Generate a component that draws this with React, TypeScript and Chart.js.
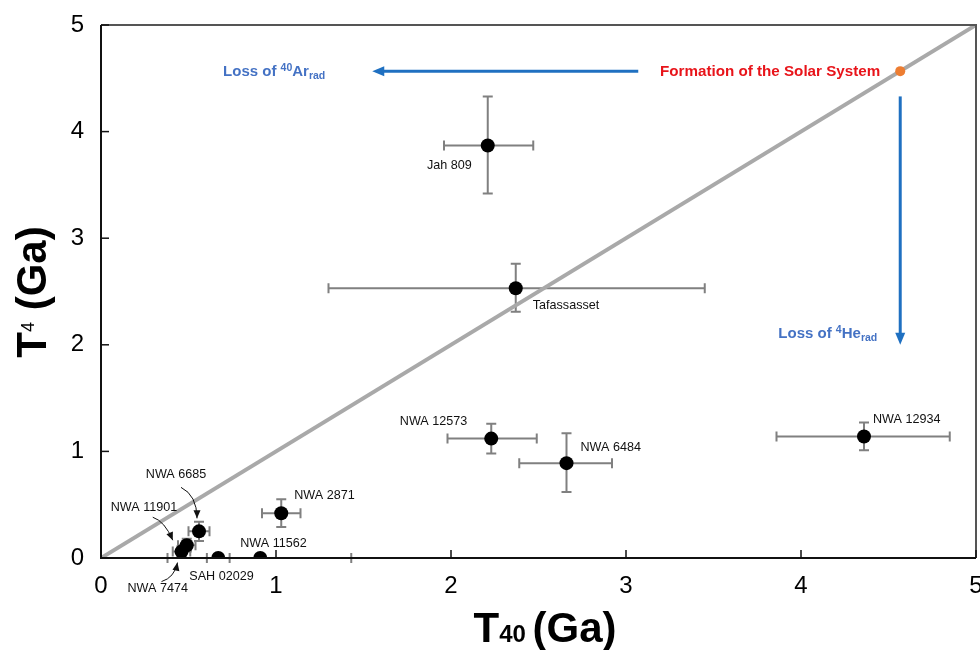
import React, { useEffect, useRef } from "react";
import { Chart, registerables } from "chart.js";

Chart.register(...registerables);

// ---------- data ----------
const names = [
  "Jah 809", "Tafassasset", "NWA 12573", "NWA 6484", "NWA 12934", "NWA 2871",
  "NWA 6685", "NWA 11901", "NWA 7474", "SAH 02029", "NWA 11562",
];
const t40 = [2.21, 2.37, 2.23, 2.66, 4.36, 1.03, 0.56, 0.49, 0.46, 0.67, 0.91];
const t4 = [3.87, 2.53, 1.12, 0.89, 1.14, 0.42, 0.25, 0.12, 0.06, 0.0, 0.0];
const t40ErrLow = [0.25, 1.07, 0.25, 0.27, 0.5, 0.11, 0.06, 0.05, 0.05, 0.065, 0.53];
const t40ErrHigh = [0.26, 1.08, 0.26, 0.26, 0.49, 0.11, 0.06, 0.05, 0.05, 0.065, 0.52];
const t4ErrLow = [0.45, 0.22, 0.14, 0.27, 0.13, 0.13, 0.09, 0.06, 0.05, 0, 0];
const t4ErrHigh = [0.46, 0.23, 0.14, 0.28, 0.13, 0.13, 0.09, 0.06, 0.05, 0, 0];

const solarAge = 4.567; // Ga, formation of the Solar System
const diagonal = [0, 5];
const axisMin = 0;
const axisMax = 5;
const tickStep = 1;

// annotation arrows (data coordinates)
const arArrowFrom = 3.07;
const arArrowTo = 1.55;
const heArrowFrom = 4.33;
const heArrowTo = 2.0;

// ---------- layout (pixel offsets, styles) ----------
const labelLayout: Record<string, { dx: number; dy: number; align: CanvasTextAlign }> = {
  "Jah 809": { dx: -16, dy: 20, align: "right" },
  Tafassasset: { dx: 17, dy: 17, align: "left" },
  "NWA 12573": { dx: -24, dy: -17, align: "right" },
  "NWA 6484": { dx: 14, dy: -16, align: "left" },
  "NWA 12934": { dx: 9, dy: -17, align: "left" },
  "NWA 2871": { dx: 13, dy: -18, align: "left" },
  "NWA 6685": { dx: -23, dy: -57, align: "center" },
  "NWA 11901": { dx: -76, dy: -38, align: "left" },
  "NWA 7474": { dx: -54, dy: 37, align: "left" },
  "SAH 02029": { dx: -29, dy: 19, align: "left" },
  "NWA 11562": { dx: -20, dy: -14, align: "left" },
};
const pointerLayout: Record<string, number[][]> = {
  "NWA 6685": [[-18, -44], [-2, -36], [-2, -13]],
  "NWA 11901": [[-34, -28], [-22, -24], [-14, -5]],
  "NWA 7474": [[-20, 30], [-7, 26], [-4, 11]],
};

const FONT = "'Liberation Sans', Arial, Helvetica, sans-serif";
const BLUE_TEXT = "#4472c4";
const BLUE_ARROW = "#1f70c1";
const CANVAS_W = 988;

type Piece = { t: string; size: number; dy?: number; bold?: boolean };

function drawRich(ctx: CanvasRenderingContext2D, pieces: Piece[], x: number, y: number, align: "left" | "right" | "center", color: string) {
  ctx.save();
  ctx.fillStyle = color;
  ctx.textBaseline = "alphabetic";
  ctx.textAlign = "left";
  const widths = pieces.map((p) => {
    ctx.font = `${p.bold === false ? "" : "bold "}${p.size}px ${FONT}`;
    return ctx.measureText(p.t).width;
  });
  const total = widths.reduce((a, b) => a + b, 0);
  let cx = align === "left" ? x : align === "right" ? x - total : x - total / 2;
  pieces.forEach((p, i) => {
    ctx.font = `${p.bold === false ? "" : "bold "}${p.size}px ${FONT}`;
    ctx.fillText(p.t, cx, y + (p.dy || 0));
    cx += widths[i];
  });
  ctx.restore();
}

function arrowHead(ctx: CanvasRenderingContext2D, fx: number, fy: number, tx: number, ty: number, len: number, half: number) {
  const a = Math.atan2(ty - fy, tx - fx);
  ctx.beginPath();
  ctx.moveTo(tx, ty);
  ctx.lineTo(tx - len * Math.cos(a) + half * Math.sin(a), ty - len * Math.sin(a) - half * Math.cos(a));
  ctx.lineTo(tx - len * Math.cos(a) - half * Math.sin(a), ty - len * Math.sin(a) + half * Math.cos(a));
  ctx.closePath();
  ctx.fill();
}

const overlay = {
  id: "overlay",
  beforeDatasetsDraw(chart: any) {
    const { ctx, scales } = chart;
    const x = scales.x, y = scales.y;
    ctx.save();
    ctx.strokeStyle = "#808080";
    ctx.lineWidth = 2;
    const cap = 5;
    for (let i = 0; i < names.length; i++) {
      const px = x.getPixelForValue(t40[i]);
      const py = y.getPixelForValue(t4[i]);
      const xl = x.getPixelForValue(t40[i] - t40ErrLow[i]);
      const xr = x.getPixelForValue(t40[i] + t40ErrHigh[i]);
      ctx.beginPath();
      ctx.moveTo(xl, py); ctx.lineTo(xr, py);
      ctx.moveTo(xl, py - cap); ctx.lineTo(xl, py + cap);
      ctx.moveTo(xr, py - cap); ctx.lineTo(xr, py + cap);
      ctx.stroke();
      if (t4ErrLow[i] > 0 || t4ErrHigh[i] > 0) {
        const yb = y.getPixelForValue(t4[i] - t4ErrLow[i]);
        const yt = y.getPixelForValue(t4[i] + t4ErrHigh[i]);
        ctx.beginPath();
        ctx.moveTo(px, yb); ctx.lineTo(px, yt);
        ctx.moveTo(px - cap, yb); ctx.lineTo(px + cap, yb);
        ctx.moveTo(px - cap, yt); ctx.lineTo(px + cap, yt);
        ctx.stroke();
      }
    }
    ctx.restore();
  },
  afterDatasetsDraw(chart: any) {
    const { ctx, scales, chartArea: a } = chart;
    const x = scales.x, y = scales.y;
    ctx.save();
    // frame
    ctx.lineWidth = 2;
    ctx.strokeStyle = "#555";
    ctx.beginPath();
    ctx.moveTo(a.left, a.top); ctx.lineTo(a.right, a.top); ctx.lineTo(a.right, a.bottom);
    ctx.stroke();
    ctx.strokeStyle = "#111";
    ctx.beginPath();
    ctx.moveTo(a.left, a.top); ctx.lineTo(a.left, a.bottom); ctx.lineTo(a.right, a.bottom);
    ctx.stroke();
    // inside tick marks
    ctx.lineWidth = 1.5;
    x.ticks.forEach((t: any) => {
      const px = x.getPixelForValue(t.value);
      ctx.beginPath(); ctx.moveTo(px, a.bottom); ctx.lineTo(px, a.bottom - 8); ctx.stroke();
    });
    y.ticks.forEach((t: any) => {
      const py = y.getPixelForValue(t.value);
      ctx.beginPath(); ctx.moveTo(a.left, py); ctx.lineTo(a.left + 8, py); ctx.stroke();
    });

    // meteorite labels
    ctx.font = `12.6px ${FONT}`;
    ctx.fillStyle = "#111";
    ctx.textBaseline = "middle";
    names.forEach((n, i) => {
      const px = x.getPixelForValue(t40[i]);
      const py = y.getPixelForValue(t4[i]);
      const l = labelLayout[n];
      ctx.textAlign = l.align;
      ctx.fillText(n, px + l.dx, py + l.dy);
      const p = pointerLayout[n];
      if (p) {
        ctx.strokeStyle = "#111";
        ctx.lineWidth = 1;
        ctx.beginPath();
        ctx.moveTo(px + p[0][0], py + p[0][1]);
        ctx.quadraticCurveTo(px + p[1][0], py + p[1][1], px + p[2][0], py + p[2][1]);
        ctx.stroke();
        arrowHead(ctx, px + p[1][0], py + p[1][1], px + p[2][0], py + p[2][1], 8, 3.5);
      }
    });

    // blue arrows
    const sx = x.getPixelForValue(solarAge);
    const sy = y.getPixelForValue(solarAge);
    ctx.strokeStyle = BLUE_ARROW;
    ctx.fillStyle = BLUE_ARROW;
    ctx.lineWidth = 3;
    const h1 = x.getPixelForValue(arArrowFrom), h2 = x.getPixelForValue(arArrowTo);
    ctx.beginPath(); ctx.moveTo(h1, sy); ctx.lineTo(h2 + 10, sy); ctx.stroke();
    arrowHead(ctx, h1, sy, h2, sy, 12, 5);
    const v1 = y.getPixelForValue(heArrowFrom), v2 = y.getPixelForValue(heArrowTo);
    ctx.beginPath(); ctx.moveTo(sx, v1); ctx.lineTo(sx, v2 - 10); ctx.stroke();
    arrowHead(ctx, sx, v1, sx, v2, 12, 5);
    ctx.restore();

    // annotation texts
    drawRich(ctx, [{ t: "Formation of the Solar System", size: 15.2 }], sx - 20, sy + 5, "right", "#e8141a");
    drawRich(
      ctx,
      [
        { t: "Loss of ", size: 15 },
        { t: "40", size: 10.5, dy: -5 },
        { t: "Ar", size: 15 },
        { t: "rad", size: 10.5, dy: 3 },
      ],
      h2 - 47, sy + 5, "right", BLUE_TEXT
    );
    drawRich(
      ctx,
      [
        { t: "Loss of ", size: 15 },
        { t: "4", size: 10.5, dy: -5 },
        { t: "He", size: 15 },
        { t: "rad", size: 10.5, dy: 3 },
      ],
      sx - 23, v2 - 7, "right", BLUE_TEXT
    );
  },
  afterDraw(chart: any) {
    const { ctx } = chart;
    // x axis title
    drawRich(
      ctx,
      [
        { t: "T", size: 42 },
        { t: "40 ", size: 24 },
        { t: "(Ga)", size: 42 },
      ],
      545, 642, "center", "#000"
    );
    // y axis title
    ctx.save();
    ctx.translate(46, 292);
    ctx.rotate(-Math.PI / 2);
    drawRich(
      ctx,
      [
        { t: "T", size: 42 },
        { t: "4", size: 18, dy: -12, bold: false },
        { t: " (Ga)", size: 42 },
      ],
      0, 0, "center", "#000"
    );
    ctx.restore();
  },
};

export default function App() {
  const ref = useRef<HTMLCanvasElement>(null);
  useEffect(() => {
    document.body.style.margin = "0";
    const pts = names.map((_, i) => ({ x: t40[i], y: t4[i] }));
    const chart = new Chart(ref.current as HTMLCanvasElement, {
      type: "scatter",
      data: {
        datasets: [
          {
            label: "Meteorites",
            data: pts,
            pointRadius: 7,
            pointHoverRadius: 7,
            backgroundColor: "#000",
            borderWidth: 0,
          },
          {
            label: "Formation of the Solar System",
            data: [{ x: solarAge, y: solarAge }],
            pointRadius: 5,
            pointHoverRadius: 5,
            backgroundColor: "#ED7D31",
            borderWidth: 0,
          },
          {
            label: "1:1",
            data: diagonal.map((v) => ({ x: v, y: v })),
            showLine: true,
            borderColor: "#a9a9a9",
            borderWidth: 4,
            pointRadius: 0,
          } as any,
        ],
      },
      options: {
        responsive: false,
        animation: false,
        devicePixelRatio: 1,
        layout: { padding: { top: 25, right: CANVAS_W - 976, left: 0, bottom: 0 } },
        plugins: { legend: { display: false }, tooltip: { enabled: false } },
        scales: {
          x: {
            type: "linear",
            min: axisMin,
            max: axisMax,
            grid: { display: false, drawTicks: false },
            border: { display: false },
            ticks: { stepSize: tickStep, padding: 14, color: "#000", font: { family: FONT, size: 24 } },
            afterFit: (s: any) => {
              s.height = 92;
              s.paddingLeft = 0;
              s.paddingRight = 0;
            },
          },
          y: {
            type: "linear",
            min: axisMin,
            max: axisMax,
            grid: { display: false, drawTicks: false },
            border: { display: false },
            ticks: { stepSize: tickStep, padding: 17, color: "#000", font: { family: FONT, size: 24 } },
            afterFit: (s: any) => {
              s.width = 101;
              s.paddingTop = 0;
              s.paddingBottom = 0;
            },
          },
        },
      },
      plugins: [overlay],
    });
    return () => chart.destroy();
  }, []);
  return (
    <div style={{ width: 980, height: 650, position: "relative", overflow: "hidden" }}>
      <canvas ref={ref} width={CANVAS_W} height={650} style={{ display: "block" }} />
    </div>
  );
}
